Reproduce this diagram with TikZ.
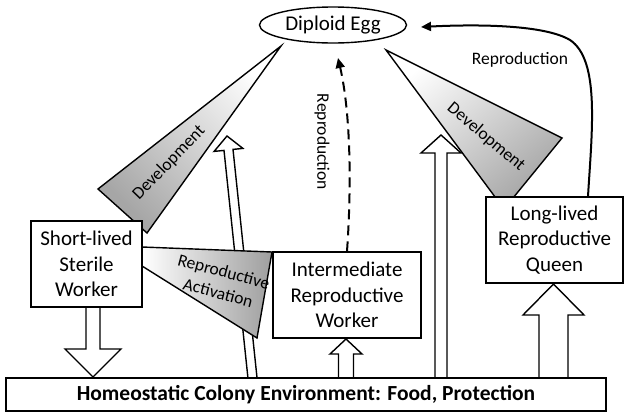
\documentclass[tikz,border=0pt]{standalone}
\usepackage{fontspec}
\setmainfont{Carlito}
\usetikzlibrary{shapes.geometric,arrows.meta}
\begin{document}
\begin{tikzpicture}[x=1pt,y=-1pt,
  box/.style={draw,line width=1.4pt,fill=white,align=center,font=\fontsize{21}{25.5}\selectfont,inner sep=0pt},
  blk/.style={draw,line width=1.4pt,fill=white,line join=miter},
  shadeshape/.style={draw,line width=1.4pt,line join=miter},
  lbl/.style={font=\fontsize{17.5}{21}\selectfont,inner sep=0pt,align=center},
  conn/.style={line width=2pt,-{Triangle[length=10pt,width=9pt]}}
]
\useasboundingbox (0,0) rectangle (629,418);
% block arrows
\draw[blk] (86,307) -- (86,349) -- (65,349) -- (93,377) -- (121,349) -- (100,349) -- (100,307);
\draw[blk] (248.0,378.5) -- (224.0,150.4) -- (214.1,151.4) -- (227,136) -- (242.9,148.4) -- (233.0,149.4) -- (257.0,377.5);
\draw[blk] (338.5,378) -- (338.5,354) -- (330,354) -- (346,339) -- (362,354) -- (353.5,354) -- (353.5,378);
\draw[blk] (435,378) -- (435,153) -- (421,153) -- (441,135) -- (461,153) -- (447,153) -- (447,378);
\draw[blk] (539,378) -- (539,315) -- (523,315) -- (553.5,284) -- (584,315) -- (568,315) -- (568,378);
% shaded shapes
\shadedraw[shadeshape,top color=white,bottom color=black!35,shading angle=-45]
  (281,46) -- (98,189) -- (147,233) -- cycle;
\shadedraw[shadeshape,top color=white,bottom color=black!35,shading angle=40]
  (386,50) -- (562,138) -- (504,209) -- cycle;
\shadedraw[shadeshape,left color=white,right color=black!38]
  (142,247) -- (272,252) -- (257,338) -- (142,266) -- cycle;
\node[lbl,rotate=46] (dev1) at (169,163) {Development};
\node[lbl,rotate=-40] (dev2) at (486,137) {Development};
\node[lbl,rotate=-15,font=\fontsize{17.5}{22}\selectfont] (ract) at (221,282) {Reproductive\\Activation};
% boxes
\node[box,minimum width=111pt,minimum height=86pt] (short) at (86.5,264) {Short-lived\\Sterile\\Worker};
\node[box,minimum width=148pt,minimum height=86pt] (inter) at (347,295) {Intermediate\\Reproductive\\Worker};
\node[box,minimum width=137pt,minimum height=86pt] (queen) at (554.5,240) {Long-lived\\Reproductive\\Queen};
\node[box,minimum width=600pt,minimum height=33pt,font=\fontsize{21.5}{25}\selectfont\bfseries] (env) at (306,394.5) {Homeostatic Colony Environment: Food, Protection};
\node[box,ellipse,minimum width=147pt,minimum height=36pt] (egg) at (333,25) {Diploid Egg};
% connectors
\coordinate (dashend) at (338,58);
\coordinate (curveend) at (421,27);
\draw[conn,dash pattern=on 10pt off 6pt] (inter.north) .. controls (352,180) and (350,110) .. (dashend);
\draw[conn] ([xshift=33.5pt]queen.north) .. controls (592,130) and (600,60) .. (570,40) .. controls (545,25) and (480,24) .. (curveend);
\node[lbl,rotate=-90] (rep1) at (322,142) {Reproduction};
\node[lbl] (rep2) at (520,60) {Reproduction};
\end{tikzpicture}
\end{document}
